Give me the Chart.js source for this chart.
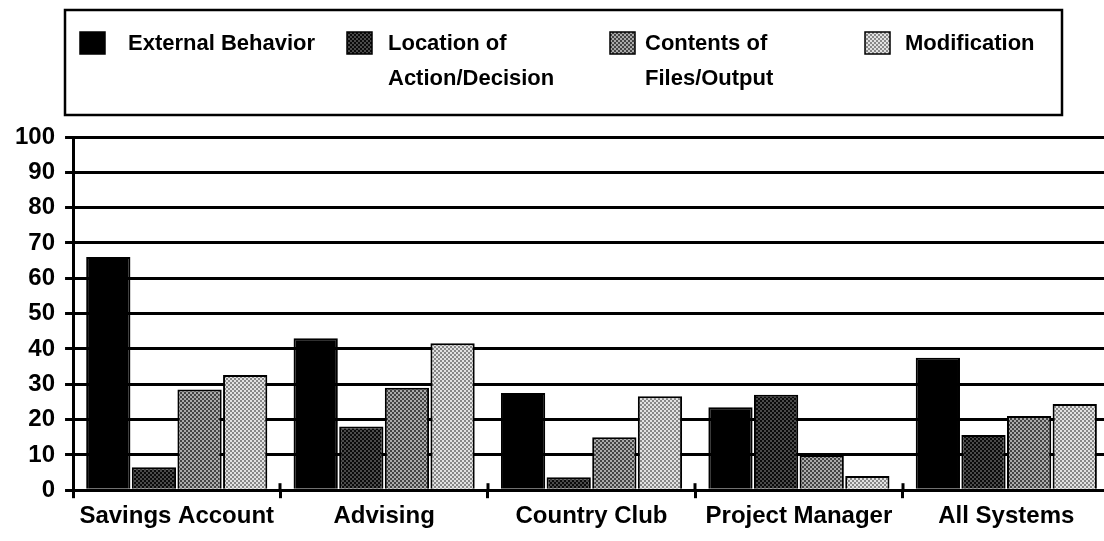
<!DOCTYPE html>
<html>
<head>
<meta charset="utf-8">
<script src="https://cdn.jsdelivr.net/npm/chart.js@4.4.1/dist/chart.umd.min.js"></script>
<style>
  html, body { margin: 0; padding: 0; background: #fff; overflow: hidden; }
  #wrap { width: 1104px; height: 541px; overflow: hidden; }
</style>
</head>
<body>
<div id="wrap"><canvas id="myChart" width="1112" height="541"></canvas></div>
<script>
    "use strict";

    // categories and series
    const categories = ['Savings Account', 'Advising', 'Country Club', 'Project Manager', 'All Systems'];
    const seriesNames = [['External Behavior'], ['Location of', 'Action/Decision'], ['Contents of', 'Files/Output'], ['Modification']];
    const externalBehavior = [66, 43, 27.5, 23.5, 37.5];
    const locationOfAction = [6.5, 18, 3.7, 27, 15.6];
    const contentsOfFiles = [28.5, 29, 15, 10, 21];
    const modification = [32.6, 41.6, 26.6, 4, 24.4];
    const yTicks = [0, 10, 20, 30, 40, 50, 60, 70, 80, 90, 100];

    const FONT = '"Liberation Sans", Arial, Helvetica, sans-serif';

    // stippled fills, like the old laser printer shades
    function stipple(dark, light) {
        var c = document.createElement('canvas');
        c.width = 4; c.height = 4;
        var g = c.getContext('2d');
        g.fillStyle = light;
        g.fillRect(0, 0, 4, 4);
        g.fillStyle = dark;
        g.fillRect(0, 0, 2, 2);
        g.fillRect(2, 2, 2, 2);
        return g.createPattern(c, 'repeat');
    }

    const fills = [
        '#000',
        stipple('#0a0a0a', '#4a4a4a'),
        stipple('#444', '#aaa'),
        stipple('#888', '#e2e2e2')
    ];

    // boxed legend at the top
    const boxLegend = {
        id: 'boxLegend',
        afterDraw(chart) {
            var ctx = chart.ctx;
            var itemX = [80, 347, 610, 865];
            var textX = [128, 388, 645, 905];
            ctx.save();
            ctx.strokeStyle = '#000';
            ctx.lineWidth = 2.5;
            ctx.strokeRect(65, 10, 997, 105);
            ctx.font = 'bold 22px ' + FONT;
            ctx.fillStyle = '#000';
            ctx.textBaseline = 'middle';
            chart.data.datasets.forEach(function (ds, i) {
                ctx.fillStyle = ds.backgroundColor;
                ctx.fillRect(itemX[i], 32, 25, 22);
                ctx.lineWidth = 1.5;
                ctx.strokeRect(itemX[i], 32, 25, 22);
                ctx.fillStyle = '#000';
                ds.label.forEach(function (line, j) {
                    ctx.fillText(line, textX[i], 44 + j * 35);
                });
            });
            ctx.restore();
        }
    };

    // category separators poke a little above the base line too
    const upTicks = {
        id: 'upTicks',
        afterDatasetsDraw(chart) {
            var x = chart.scales.x, ctx = chart.ctx;
            var step = (x.right - x.left) / categories.length;
            ctx.save();
            ctx.strokeStyle = '#000';
            ctx.lineWidth = 3;
            for (var i = 1; i < categories.length; i++) {
                var px = Math.round(x.left + i * step);
                ctx.beginPath();
                ctx.moveTo(px, x.top - 7);
                ctx.lineTo(px, x.top);
                ctx.stroke();
            }
            ctx.restore();
        }
    };

    const ctx = document.getElementById('myChart').getContext('2d');
    const chart = new Chart(ctx, {
        type: 'bar',
        data: {
            labels: categories,
            datasets: [externalBehavior, locationOfAction, contentsOfFiles, modification].map(function (vals, i) {
                return {
                    label: seriesNames[i],
                    data: vals,
                    backgroundColor: fills[i],
                    borderColor: '#000',
                    borderWidth: 2,
                    barPercentage: 0.97,
                    categoryPercentage: 0.88
                };
            })
        },
        options: {
            responsive: false,
            animation: false,
            layout: { padding: { top: 137, left: 5, right: 2, bottom: 6 } },
            plugins: {
                legend: { display: false },
                tooltip: { enabled: false }
            },
            scales: {
                x: {
                    grid: { display: true, drawOnChartArea: false, color: '#000', lineWidth: 3, tickLength: 8 },
                    border: { display: true, color: '#000', width: 3 },
                    ticks: { color: '#000', font: { family: FONT, size: 24, weight: 'bold' }, padding: 4, maxRotation: 0, autoSkip: false }
                },
                y: {
                    min: 0,
                    max: 100,
                    afterBuildTicks: function (axis) {
                        axis.ticks = yTicks.map(function (v) { return { value: v }; });
                    },
                    grid: { color: '#000', lineWidth: 3, tickLength: 8 },
                    border: { display: true, color: '#000', width: 3 },
                    ticks: { color: '#000', font: { family: FONT, size: 24, weight: 'bold' }, padding: 10 }
                }
            }
        },
        plugins: [boxLegend, upTicks]
    });
</script>
</body>
</html>
